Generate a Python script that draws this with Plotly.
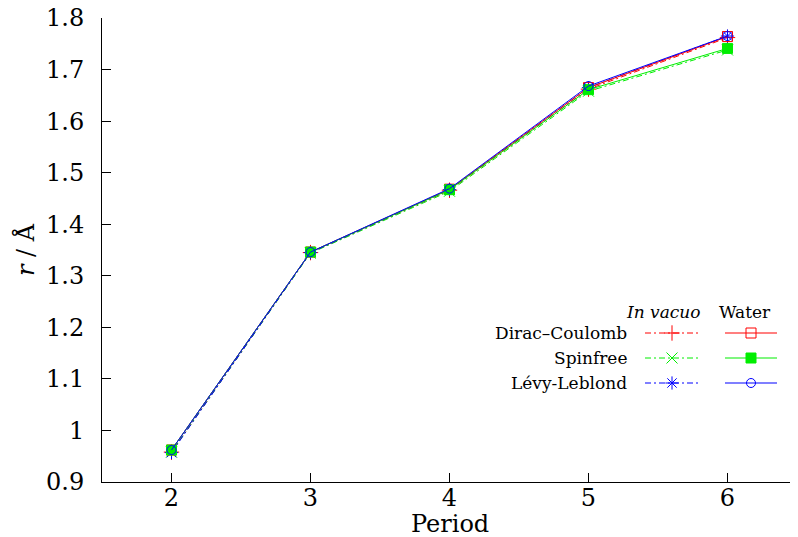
import plotly.graph_objects as go

periods = [2, 3, 4, 5, 6]
dc_vac = [0.958, 1.345, 1.466, 1.662, 1.762]
sf_vac = [0.958, 1.344, 1.464, 1.658, 1.738]
ll_vac = [0.957, 1.345, 1.467, 1.665, 1.765]
dc_wat = [0.962, 1.346, 1.468, 1.665, 1.764]
sf_wat = [0.962, 1.346, 1.467, 1.661, 1.741]
ll_wat = [0.962, 1.346, 1.469, 1.668, 1.765]

names = ["Dirac–Coulomb", "Spinfree", "Lévy-Leblond"]
colors = ["#ff0000", "#00ee00", "#0000ff"]
vac_symbols = ["cross-thin-open", "x-thin-open", "asterisk-open"]
wat_symbols = ["square-open", "square", "circle-open"]
vac_sizes = [11, 11, 11]
wat_sizes = [10, 10, 9]
y_ticks = [0.9, 1.0, 1.1, 1.2, 1.3, 1.4, 1.5, 1.6, 1.7, 1.8]
y_tick_text = ["0.9", "1", "1.1", "1.2", "1.3", "1.4", "1.5", "1.6", "1.7", "1.8"]

FONT = "DejaVu Serif"
DASH = "6px,3px,2px,3px"

# page offset (body margin) compensation
OX, OY = 8, 8

fig = go.Figure()
vac = [dc_vac, sf_vac, ll_vac]
wat = [dc_wat, sf_wat, ll_wat]
for i in range(3):
    fig.add_trace(go.Scatter(
        x=periods, y=vac[i], mode="lines+markers", name=names[i] + " (in vacuo)",
        line=dict(color=colors[i], width=1, dash=DASH),
        marker=dict(symbol=vac_symbols[i], size=vac_sizes[i], color=colors[i],
                    line=dict(color=colors[i], width=1)),
        showlegend=False))
for i in range(3):
    fig.add_trace(go.Scatter(
        x=periods, y=wat[i], mode="lines+markers", name=names[i] + " (water)",
        line=dict(color=colors[i], width=1),
        marker=dict(symbol=wat_symbols[i], size=wat_sizes[i], color=colors[i],
                    line=dict(color=colors[i], width=1)),
        showlegend=False))

# custom legend drawn on an overlay axis (fractions of plot area)
W, H = 695.0, 464.0
def fx(px):
    return (px - 102) / W
def fy(py):
    return (482 - py) / H

row_y = [333, 358, 383]
for i in range(3):
    fig.add_trace(go.Scatter(
        x=[fx(645), fx(672), fx(699)], y=[fy(row_y[i])] * 3, mode="lines",
        line=dict(color=colors[i], width=1, dash=DASH), xaxis="x2", yaxis="y2",
        showlegend=False, hoverinfo="skip"))
    fig.add_trace(go.Scatter(
        x=[fx(672)], y=[fy(row_y[i])], mode="markers",
        marker=dict(symbol=vac_symbols[i], size=vac_sizes[i], color=colors[i],
                    line=dict(color=colors[i], width=1)),
        xaxis="x2", yaxis="y2", showlegend=False, hoverinfo="skip"))
    fig.add_trace(go.Scatter(
        x=[fx(725), fx(751), fx(777)], y=[fy(row_y[i])] * 3, mode="lines",
        line=dict(color=colors[i], width=1.2), xaxis="x2", yaxis="y2",
        showlegend=False, hoverinfo="skip"))
    fig.add_trace(go.Scatter(
        x=[fx(751)], y=[fy(row_y[i])], mode="markers",
        marker=dict(symbol=wat_symbols[i], size=wat_sizes[i], color=colors[i],
                    line=dict(color=colors[i], width=1)),
        xaxis="x2", yaxis="y2", showlegend=False, hoverinfo="skip"))
    fig.add_annotation(x=fx(629), y=fy(row_y[i]), xref="x2", yref="y2",
                       text=names[i], showarrow=False, xanchor="right", yanchor="middle",
                       font=dict(family=FONT, size=17, color="black"))
fig.add_annotation(x=fx(663), y=fy(312), xref="x2", yref="y2", text="<i>In vacuo</i>",
                   showarrow=False, xanchor="center", yanchor="middle",
                   font=dict(family=FONT, size=17, color="black"))
fig.add_annotation(x=fx(745), y=fy(312), xref="x2", yref="y2", text="Water",
                   showarrow=False, xanchor="center", yanchor="middle",
                   font=dict(family=FONT, size=17, color="black"))
# x-axis title (paper coordinates, below the plot area)
fig.add_annotation(x=fx(450), y=fy(524), xref="paper", yref="paper", text="Period",
                   showarrow=False, xanchor="center", yanchor="middle",
                   font=dict(family=FONT, size=24, color="black"))

fig.update_layout(
    width=798, height=537,
    margin=dict(l=102 - OX, r=1 + OX, t=18 - OY, b=55 + OY, autoexpand=False),
    paper_bgcolor="white", plot_bgcolor="white",
    font=dict(family=FONT, size=24, color="black"),
    xaxis=dict(range=[1.5, 6.5], tickvals=periods, ticks="inside", ticklen=9,
               tickcolor="black", showline=True, linecolor="black", linewidth=1,
               showgrid=False, zeroline=False, mirror=False, automargin=False,
               tickfont=dict(size=24), ticklabeloverflow="allow",
               ticklabelstandoff=-6),
    yaxis=dict(range=[0.9, 1.8], tickvals=y_ticks, ticktext=y_tick_text,
               ticks="inside", ticklen=9, tickcolor="black", showline=True,
               linecolor="black", linewidth=1, showgrid=False, zeroline=False,
               automargin=False,
               title=dict(text="<i>r</i> / Å", standoff=4, font=dict(size=24)),
               tickfont=dict(size=24), ticklabeloverflow="allow",
               ticklabelstandoff=12),
    xaxis2=dict(range=[0, 1], overlaying="x", visible=False, anchor="y2",
                automargin=False),
    yaxis2=dict(range=[0, 1], overlaying="y", visible=False, anchor="x2",
                automargin=False),
)

fig.write_html("out.html")
